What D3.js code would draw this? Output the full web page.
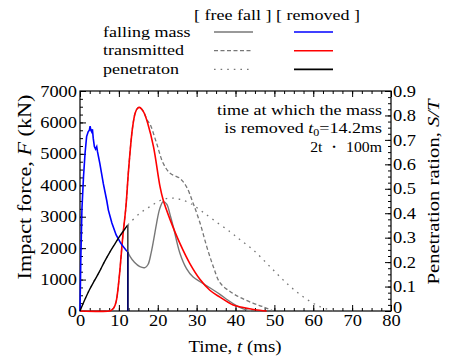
<!DOCTYPE html>
<html>
<head>
<meta charset="utf-8">
<script src="https://cdn.jsdelivr.net/npm/d3@7"></script>
<style>
    body { margin: 0; background: #fff; }
    svg { display: block; font-family: "Liberation Serif", "Times New Roman", serif; }
    .tick line { stroke: #000; }
</style>
</head>
<body>
<svg width="449" height="360"></svg>
<script>
// falling mass, removed case (kN)
const tMassRemoved = [0, 0.2, 0.5, 0.9, 1.3, 1.7, 2.1, 2.4, 2.6, 2.8, 3.0, 3.2, 3.4, 3.7, 4.0, 4.3, 4.5, 5.1, 6.0, 6.9, 7.3, 8.2, 9.3, 10.5, 11.8, 12.3];
const fMassRemoved = [0, 1600, 3250, 4270, 5020, 5550, 5700, 5750, 5880, 5750, 5700, 5780, 5500, 5230, 5150, 5230, 5070, 4700, 4050, 3500, 3210, 2800, 2420, 2150, 1940, 1880];
// falling mass, free fall after removal time
const tMassFree = [12.9, 14.0, 15.4, 16.7, 17.5, 18.3, 19.0, 19.7, 20.5, 21.4, 22.3, 23.2, 24.0, 25.7, 27.4, 29.1, 30.9, 33.4, 36.0, 38.0, 40.0, 42.0, 44.0];
const fMassFree = [1730, 1550, 1410, 1380, 1480, 1850, 2300, 2790, 3250, 3480, 3400, 3050, 2680, 1840, 1350, 1080, 930, 740, 530, 350, 190, 70, 0];

// transmitted force, removed case
const tTransRemoved = [0, 7.5, 8.1, 8.7, 9.3, 10.1, 11.0, 11.8, 12.5, 13.5, 14.2, 14.8, 15.3, 15.9, 16.5, 17.4, 18.9, 20.6, 21.4, 23.2, 25.7, 28.3, 30.9, 33.4, 36.0, 39.4, 42.0, 45.0, 48.0];
const fTransRemoved = [0, 0, 30, 100, 300, 1090, 2360, 3300, 4500, 5820, 6300, 6450, 6480, 6420, 6300, 5980, 5230, 3950, 3530, 2900, 2150, 1500, 1000, 660, 440, 190, 110, 40, 0];
// transmitted force, free fall (same as removed up to 16.5 ms)
const tTransFree = [17.4, 18.0, 19.7, 21.4, 23.2, 25.7, 27.4, 29.1, 30.9, 32.6, 34.3, 36.0, 38.6, 41.2, 44.6, 47.2, 49.7];
const fTransFree = [6050, 5950, 5340, 4700, 4380, 4220, 3950, 3430, 2790, 2050, 1410, 900, 620, 430, 245, 130, 0];

// penetration ratio S/T
const tPenRemoved = [0, 1.2, 2.4, 3.7, 5.0, 6.2, 7.5, 8.8, 10.1, 11.2, 12.3];
const sPenRemoved = [0, 0.045, 0.086, 0.124, 0.161, 0.199, 0.236, 0.27, 0.303, 0.328, 0.352];
const tPenFree = [12.9, 15.4, 18.0, 20.6, 23.2, 25.7, 28.3, 30.9, 34.3, 38.6, 41.2, 44.6, 48.9, 53.2, 57.4, 61.7, 65.2];
const sPenFree = [0.362, 0.40, 0.427, 0.452, 0.462, 0.457, 0.441, 0.413, 0.373, 0.324, 0.291, 0.249, 0.181, 0.113, 0.058, 0.018, 0];

// ticks
const xMajor = [0, 10, 20, 30, 40, 50, 60, 70, 80];
const yMajor = [0, 1000, 2000, 3000, 4000, 5000, 6000, 7000];
const y2Major = [0, 0.1, 0.2, 0.3, 0.4, 0.5, 0.6, 0.7, 0.8, 0.9];

const legendRows = ['falling mass', 'transmitted', 'penetraton'];

const zip = (ts, vs) => ts.map((t, i) => [t, vs[i]]);

const svg = d3.select('svg');
const plotLeft = 80, plotRight = 391, plotTop = 91, plotBottom = 311;

const x = d3.scaleLinear().domain([0, 80]).range([plotLeft, plotRight]);
const y = d3.scaleLinear().domain([0, 7000]).range([plotBottom, plotTop]);
const y2 = d3.scaleLinear().domain([0, 0.9]).range([plotBottom, plotTop]);

// растягиваем текст по горизонтали, шрифт в оригинале шире
function stretch(sel, k) {
    sel.each(function () {
        const w = this.getComputedTextLength();
        d3.select(this).attr('textLength', w * k).attr('lengthAdjust', 'spacingAndGlyphs');
    });
}

// minor ticks
function minorTicks(axis, scale, step, max, g) {
    g.call(axis(scale).tickValues(d3.range(0, max + step / 2, step)).tickSize(-3).tickFormat(''))
        .select('.domain').remove();
}

const gx = svg.append('g').attr('transform', `translate(0,${plotBottom})`);
minorTicks(d3.axisBottom, x, 2.5, 80, gx.append('g'));
gx.append('g').call(d3.axisBottom(x).tickValues(xMajor).tickSize(-6).tickPadding(4))
    .call(g => g.select('.domain').remove())
    .selectAll('text').attr('font-size', 16).attr('fill', '#000');

const gxt = svg.append('g').attr('transform', `translate(0,${plotTop})`);
minorTicks(d3.axisTop, x, 2.5, 80, gxt.append('g'));
gxt.append('g').call(d3.axisTop(x).tickValues(xMajor).tickSize(-6).tickFormat(''))
    .select('.domain').remove();

const gy = svg.append('g').attr('transform', `translate(${plotLeft},0)`);
minorTicks(d3.axisLeft, y, 250, 7000, gy.append('g'));
gy.append('g').call(d3.axisLeft(y).tickValues(yMajor).tickSize(-6).tickPadding(3).tickFormat(d3.format('d')))
    .call(g => g.select('.domain').remove())
    .selectAll('text').attr('font-size', 16).attr('fill', '#000');

const gy2 = svg.append('g').attr('transform', `translate(${plotRight},0)`);
minorTicks(d3.axisRight, y2, 0.025, 0.9, gy2.append('g'));
gy2.append('g').call(d3.axisRight(y2).tickValues(y2Major).tickSize(-6).tickPadding(2)
        .tickFormat(d => d === 0 ? '0' : d3.format('.1f')(d)))
    .call(g => g.select('.domain').remove())
    .selectAll('text').attr('font-size', 16).attr('fill', '#000')
    .filter(d => d === 0).attr('dy', '0.1em');

svg.selectAll('g[font-family]').attr('font-family', null).attr('font-size', null);
svg.selectAll('.tick text').call(stretch, 1.15);

svg.append('rect')
    .attr('x', plotLeft).attr('y', plotTop)
    .attr('width', plotRight - plotLeft).attr('height', plotBottom - plotTop)
    .attr('fill', 'none').attr('stroke', '#000').attr('stroke-width', 1.2);

// curves
const lineF = d3.line().x(d => x(d[0])).y(d => y(d[1])).curve(d3.curveCatmullRom.alpha(0.5));
const lineFlin = d3.line().x(d => x(d[0])).y(d => y(d[1]));
const lineS = d3.line().x(d => x(d[0])).y(d => y2(d[1])).curve(d3.curveCatmullRom.alpha(0.5));

const massRemoved = zip(tMassRemoved, fMassRemoved);
const massFree = massRemoved.concat(zip(tMassFree, fMassFree));
const transRemoved = zip(tTransRemoved, fTransRemoved);
const transFree = transRemoved.filter(d => d[0] <= 16.5).concat(zip(tTransFree, fTransFree));
const penRemoved = zip(tPenRemoved, sPenRemoved);
const penFree = penRemoved.concat(zip(tPenFree, sPenFree));

const plot = svg.append('g');

plot.append('path').attr('d', lineS(penFree))
    .attr('fill', 'none').attr('stroke', '#777').attr('stroke-width', 1.3).attr('stroke-dasharray', '1.6,5');
plot.append('path').attr('d', lineF(transFree))
    .attr('fill', 'none').attr('stroke', '#777').attr('stroke-width', 1.3).attr('stroke-dasharray', '4,2.5');
plot.append('path').attr('d', lineF(massFree.slice(tMassRemoved.length - 1)))
    .attr('fill', 'none').attr('stroke', '#777').attr('stroke-width', 1.4);
plot.append('path').attr('d', lineF(transRemoved))
    .attr('fill', 'none').attr('stroke', '#f00').attr('stroke-width', 1.6);
plot.append('path').attr('d', lineFlin(massRemoved))
    .attr('fill', 'none').attr('stroke', '#00f').attr('stroke-width', 1.6);
plot.append('path').attr('d', lineS(penRemoved))
    .attr('fill', 'none').attr('stroke', '#000').attr('stroke-width', 1.4);

// вертикальные сбросы в момент удаления массы
const lastMass = massRemoved[massRemoved.length - 1];
const lastPen = penRemoved[penRemoved.length - 1];
plot.append('line')
    .attr('x1', x(lastPen[0])).attr('x2', x(lastPen[0]))
    .attr('y1', y2(lastPen[1])).attr('y2', y2(0))
    .attr('stroke', '#444').attr('stroke-width', 1.6);
plot.append('line')
    .attr('x1', x(lastMass[0])).attr('x2', x(lastMass[0]))
    .attr('y1', y(lastMass[1])).attr('y2', y(0))
    .attr('stroke', '#00006a').attr('stroke-width', 1.6);

// legend
const legend = svg.append('g').attr('font-size', 15);
legend.append('text').attr('x', 277).attr('y', 20).attr('text-anchor', 'middle')
    .text('[ free fall ] [ removed ]').call(stretch, 1.2);

const freeDash = ['none', '4,2.5', '1.6,5'];
const removedColor = ['#00f', '#f00', '#000'];
legendRows.forEach((name, i) => {
    const ly = 32 + i * 18.7;
    legend.append('text').attr('x', 103).attr('y', ly + 4.6).text(name).call(stretch, 1.2);
    legend.append('line').attr('x1', 214).attr('x2', 253).attr('y1', ly).attr('y2', ly)
        .attr('stroke', '#777').attr('stroke-width', 1.3).attr('stroke-dasharray', freeDash[i]);
    legend.append('line').attr('x1', 294).attr('x2', 333).attr('y1', ly).attr('y2', ly)
        .attr('stroke', removedColor[i]).attr('stroke-width', 1.6);
});

// annotation
const note = svg.append('g').attr('font-size', 15).attr('text-anchor', 'end');
note.append('text').attr('x', 382).attr('y', 115).text('time at which the mass').call(stretch, 1.2);
const t0 = note.append('text').attr('x', 382).attr('y', 133);
t0.append('tspan').text('is removed ');
t0.append('tspan').attr('font-style', 'italic').text('t');
t0.append('tspan').attr('font-size', 10).attr('dy', 3).text('0');
t0.append('tspan').attr('dy', -3).text('=14.2ms');
t0.call(stretch, 1.2);
note.append('text').attr('x', 382).attr('y', 151.5).text('2t ・ 100m').call(stretch, 1.05);

// axis titles
const xt = svg.append('text').attr('x', 235).attr('y', 352).attr('text-anchor', 'middle').attr('font-size', 16);
xt.append('tspan').text('Time, ');
xt.append('tspan').attr('font-style', 'italic').text('t');
xt.append('tspan').text(' (ms)');
xt.call(stretch, 1.18);

const ylt = svg.append('text').attr('transform', 'translate(31,187) rotate(-90)')
    .attr('text-anchor', 'middle').attr('font-size', 18);
ylt.append('tspan').text('Impact force, ');
ylt.append('tspan').attr('font-style', 'italic').text('F');
ylt.append('tspan').text(' (kN)');
ylt.call(stretch, 185 / (18 * 8.33));

const yrt = svg.append('text').attr('transform', 'translate(439,192) rotate(-90)')
    .attr('text-anchor', 'middle').attr('font-size', 17);
yrt.append('tspan').text('Penetration ration, ');
yrt.append('tspan').attr('font-style', 'italic').text('S/T');
yrt.call(stretch, 185 / (17 * 8.97));
</script>
</body>
</html>
